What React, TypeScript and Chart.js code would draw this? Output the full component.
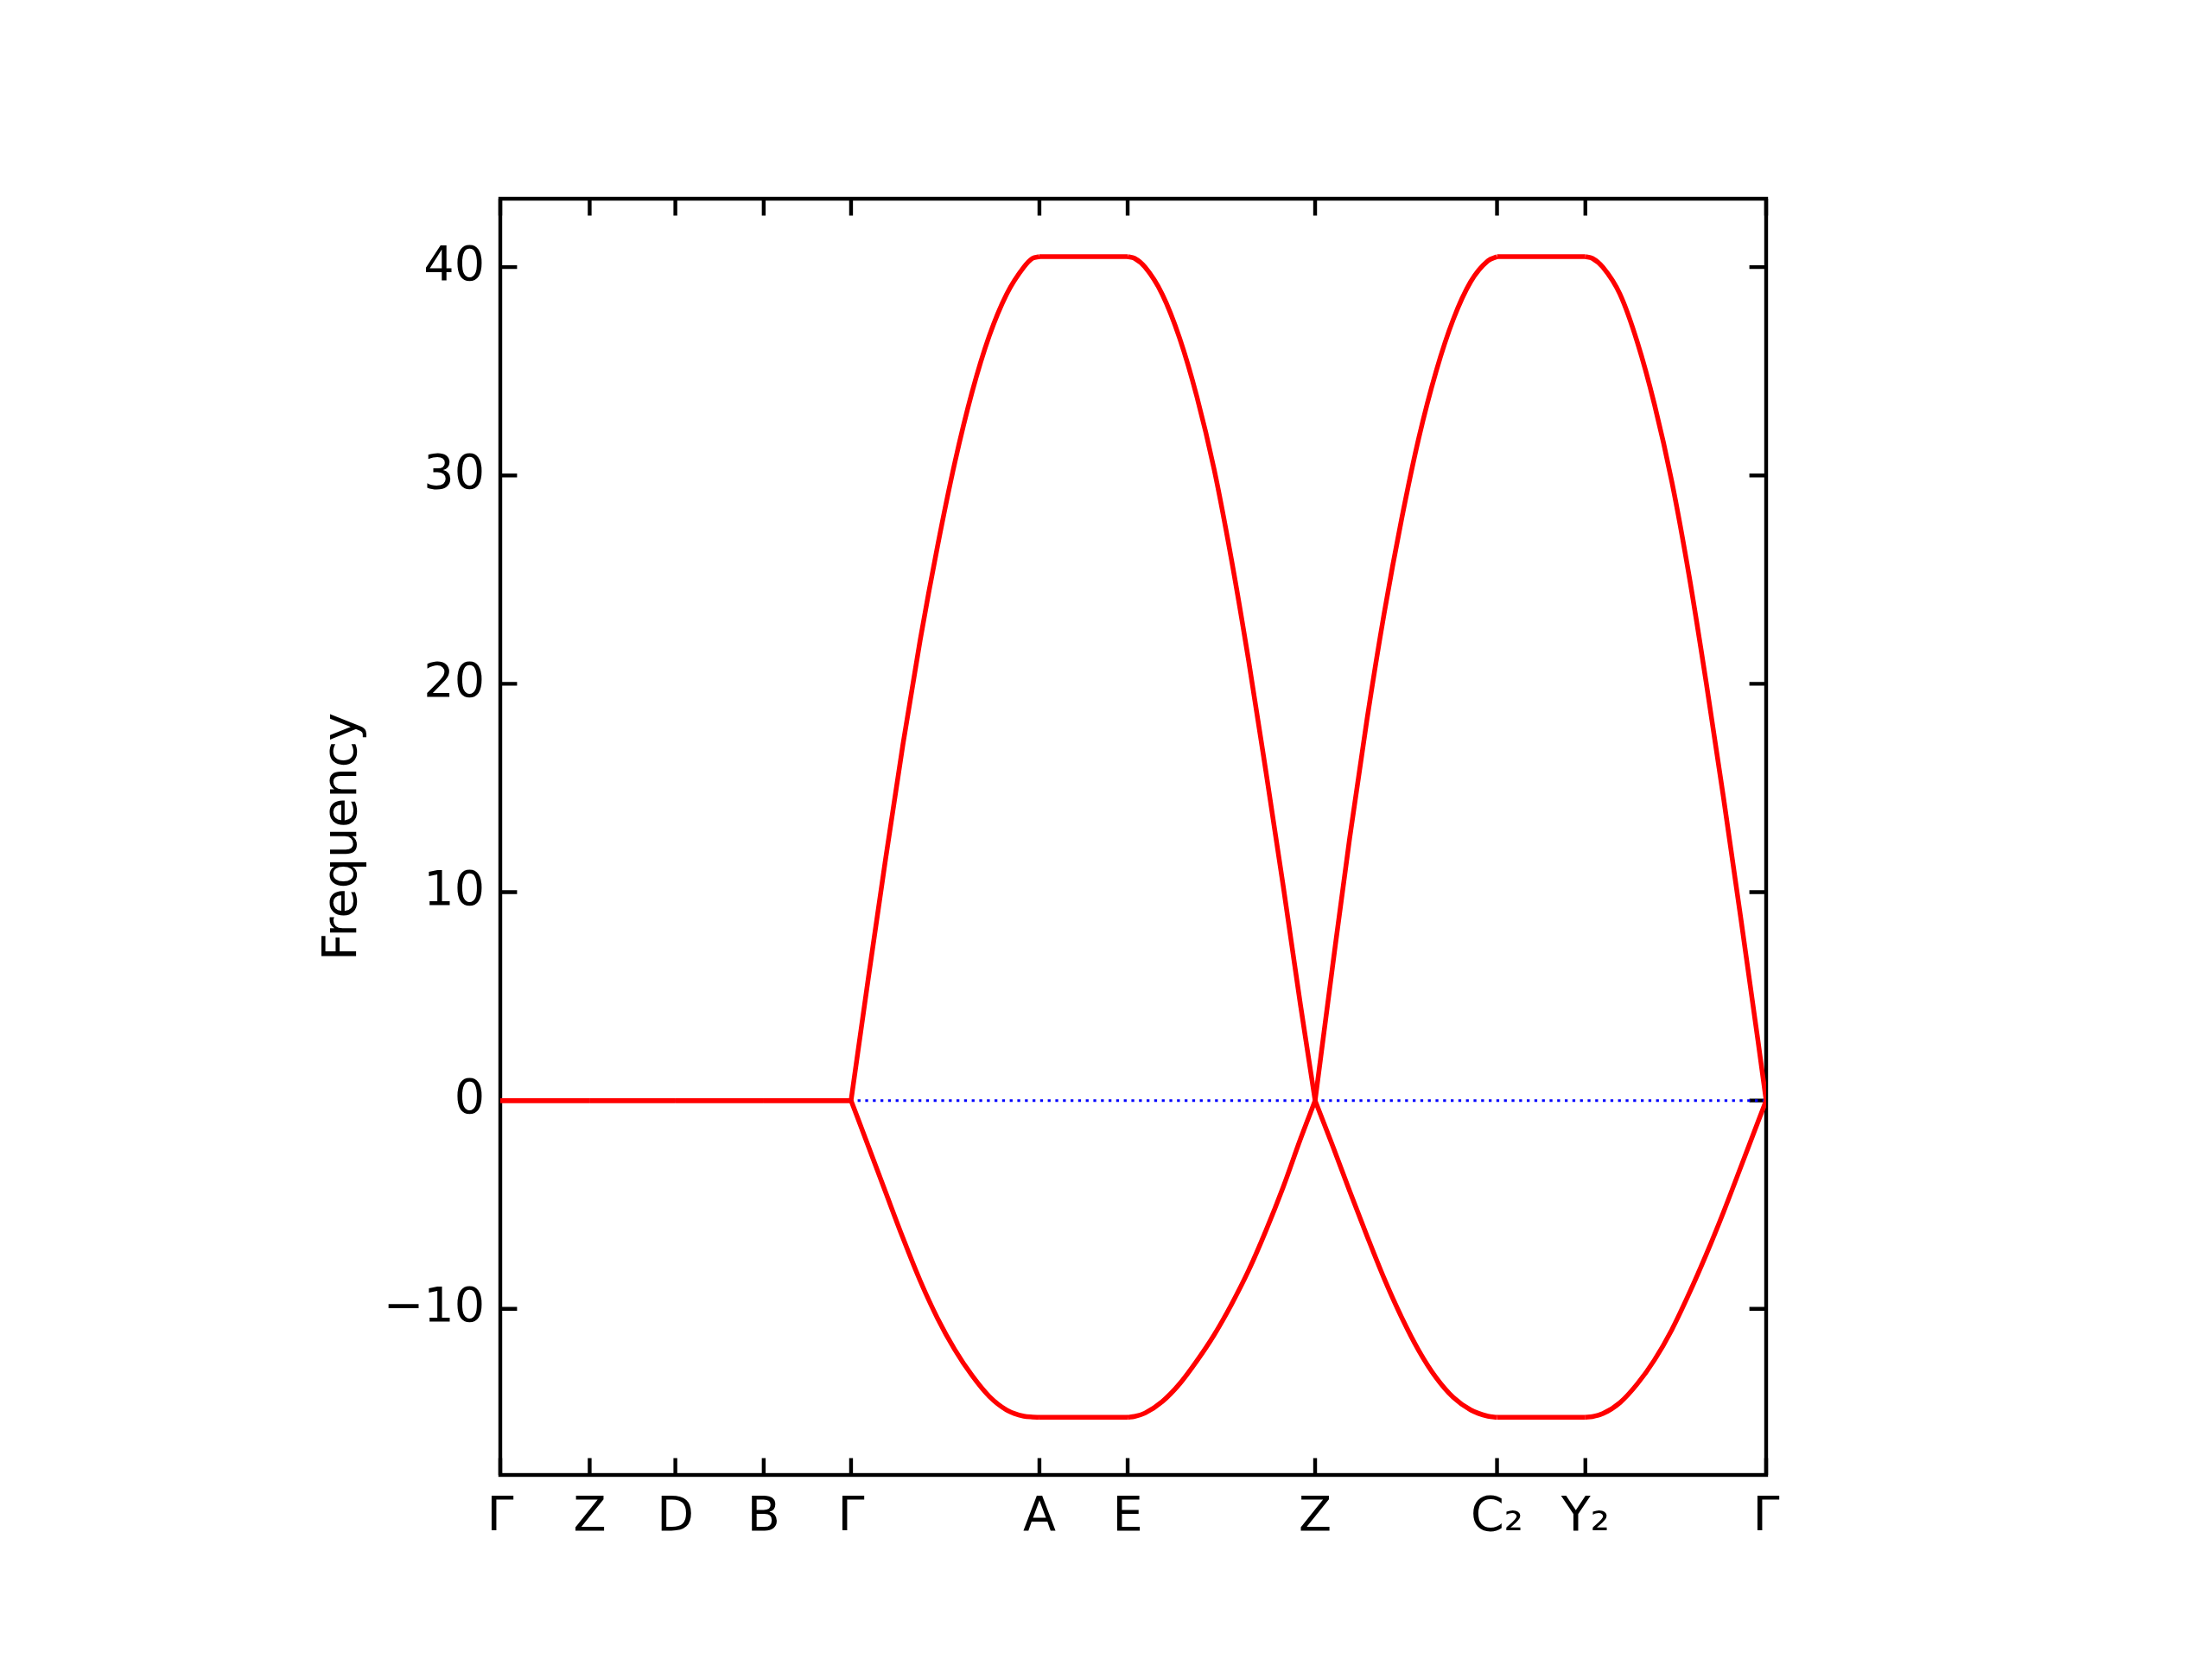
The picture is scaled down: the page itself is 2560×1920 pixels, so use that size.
import React, { useEffect, useRef } from 'react';
import { Chart, registerables } from 'chart.js';

Chart.register(...registerables);

// High-symmetry path positions (normalised k-path distance) and labels
const tickPositions = [0, 0.0706, 0.1383, 0.2081, 0.2771, 0.4259, 0.4956, 0.6437, 0.7874, 0.8572, 1];
const tickLabels = ['Γ', 'Z', 'D', 'B', 'Γ', 'A', 'E', 'Z', 'C₂', 'Y₂', 'Γ'];
const yTicks = [-10, 0, 10, 20, 30, 40];
const yMin = -17.97;
const yMax = 43.28;

// k-path sampling shared by both bands
const kPath = [
  0, 0.0706, 0.1383, 0.2081, 0.2771,
  0.2908, 0.3044, 0.3181, 0.3317, 0.3454, 0.359, 0.3727, 0.3863, 0.4, 0.4136, 0.4204, 0.4259,
  0.4956, 0.5011, 0.5093, 0.5229, 0.5366, 0.5502, 0.5639, 0.5775, 0.5912, 0.6048, 0.6185, 0.6321, 0.6437,
  0.6574, 0.671, 0.6847, 0.6983, 0.712, 0.7256, 0.7393, 0.7529, 0.7666, 0.7802, 0.7874,
  0.8572, 0.8627, 0.8709, 0.8845, 0.8982, 0.9118, 0.9255, 0.9391, 0.9528, 0.9664, 0.9801, 0.9937, 1,
];

// Upper band frequencies
const upperFreq = [
  0, 0, 0, 0, 0,
  5.9, 11.6, 17.1, 22.1, 26.6, 30.6, 34.0, 36.7, 38.7, 40.0, 40.42, 40.5,
  40.5, 40.42, 40.0, 38.7, 36.6, 33.8, 30.3, 26.0, 21.1, 15.8, 10.3, 4.6, 0,
  6.4, 12.6, 18.3, 23.4, 27.9, 31.8, 35.0, 37.5, 39.3, 40.3, 40.5,
  40.5, 40.42, 40.0, 38.7, 36.4, 33.4, 29.7, 25.2, 20.0, 14.5, 8.7, 2.8, 0,
];

// Lower band frequencies
const lowerFreq = [
  0, 0, 0, 0, 0,
  -2.2, -4.4, -6.6, -8.65, -10.45, -11.95, -13.2, -14.2, -14.85, -15.15, -15.19, -15.2,
  -15.2, -15.16, -15.0, -14.45, -13.6, -12.5, -11.25, -9.8, -8.15, -6.25, -4.15, -1.85, 0,
  -2.15, -4.35, -6.5, -8.55, -10.4, -12.0, -13.3, -14.25, -14.85, -15.15, -15.2,
  -15.2, -15.17, -15.03, -14.5, -13.6, -12.45, -11.0, -9.27, -7.37, -5.34, -3.17, -1.0, 0,
];

// Zero reference (dotted)
const zeroK = [0, 1];
const zeroFreq = [0, 0];

function splitSegments(ks: number[], fs: number[]) {
  const segs: { x: number; y: number }[][] = [];
  for (let i = 0; i < tickPositions.length - 1; i++) {
    const a = tickPositions[i];
    const b = tickPositions[i + 1];
    const pts: { x: number; y: number }[] = [];
    ks.forEach((k, j) => {
      if (k >= a - 1e-9 && k <= b + 1e-9) pts.push({ x: k, y: fs[j] });
    });
    if (pts.length >= 2) segs.push(pts);
  }
  return segs;
}

const FONT = 'DejaVu Sans';
const TICK_LEN = 19.4;
const AXIS_LW = 4.4;

const framePlugin = {
  id: 'mplFrame',
  beforeDatasetsDraw(chart: any) {
    const { ctx, chartArea, scales } = chart;
    const { left, right, top, bottom } = chartArea;
    ctx.save();
    ctx.strokeStyle = '#000';
    ctx.lineWidth = AXIS_LW;
    ctx.lineCap = 'butt';
    ctx.beginPath();
    tickPositions.forEach((v) => {
      const x = scales.x.getPixelForValue(v);
      ctx.moveTo(x, bottom);
      ctx.lineTo(x, bottom - TICK_LEN);
      ctx.moveTo(x, top);
      ctx.lineTo(x, top + TICK_LEN);
    });
    yTicks.forEach((v) => {
      const y = scales.y.getPixelForValue(v);
      ctx.moveTo(left, y);
      ctx.lineTo(left + TICK_LEN, y);
      ctx.moveTo(right, y);
      ctx.lineTo(right - TICK_LEN, y);
    });
    ctx.stroke();
    ctx.lineJoin = 'miter';
    ctx.strokeRect(left, top, right - left, bottom - top);
    ctx.restore();
  },
};

export default function App() {
  const canvasRef = useRef<HTMLCanvasElement | null>(null);

  useEffect(() => {
    const canvas = canvasRef.current;
    if (!canvas) return;
    const datasets: any[] = [];
    [upperFreq, lowerFreq].forEach((fs) => {
      splitSegments(kPath, fs).forEach((pts) => {
        datasets.push({
          data: pts,
          borderColor: '#ff0000',
          borderWidth: 5.5,
          pointRadius: 0,
          fill: false,
          cubicInterpolationMode: 'monotone',
          order: 0,
        });
      });
    });
    datasets.push({
      data: zeroK.map((k, i) => ({ x: k, y: zeroFreq[i] })),
      borderColor: '#0000ff',
      borderWidth: 3,
      borderDash: [3.3, 5.5],
      pointRadius: 0,
      fill: false,
      tension: 0,
      order: 5,
    });

    const chart = new Chart(canvas, {
      type: 'line',
      data: { datasets },
      options: {
        animation: false,
        responsive: false,
        devicePixelRatio: 1,
        events: [],
        layout: { padding: { left: 340, right: 516, top: 230, bottom: 0 } },
        plugins: { legend: { display: false }, tooltip: { enabled: false } },
        scales: {
          x: {
            type: 'linear',
            min: 0,
            max: 1,
            grid: { display: false, drawTicks: false },
            border: { display: false },
            afterBuildTicks: (scale: any) => {
              scale.ticks = tickPositions.map((v) => ({ value: v }));
            },
            afterFit: (scale: any) => {
              scale.height = 213;
            },
            ticks: {
              autoSkip: false,
              maxRotation: 0,
              minRotation: 0,
              padding: 16,
              color: '#000',
              font: { family: FONT, size: 55.6 },
              callback: (value: any) => {
                const idx = tickPositions.findIndex((p) => Math.abs(p - Number(value)) < 1e-6);
                return idx >= 0 ? tickLabels[idx] : '';
              },
            },
          },
          y: {
            type: 'linear',
            min: yMin,
            max: yMax,
            grid: { display: false, drawTicks: false },
            border: { display: false },
            afterBuildTicks: (scale: any) => {
              scale.ticks = yTicks.map((v) => ({ value: v }));
            },
            afterFit: (scale: any) => {
              scale.width = 239;
            },
            title: {
              display: true,
              text: 'Frequency',
              color: '#000',
              font: { family: FONT, size: 55.6 },
              padding: { top: 24, bottom: 0 },
            },
            ticks: {
              padding: 18,
              color: '#000',
              font: { family: FONT, size: 55.6 },
              callback: (value: any) => {
                const n = Number(value);
                return n < 0 ? '\u2212' + String(Math.abs(n)) : String(n);
              },
            },
          },
        },
      },
      plugins: [framePlugin],
    });

    return () => {
      chart.destroy();
    };
  }, []);

  return (
    <div style={{ position: 'absolute', left: 0, top: 0, width: 2560, height: 1920, background: '#fff' }}>
      <canvas ref={canvasRef} width={2560} height={1920} style={{ width: 2560, height: 1920, display: 'block' }} />
    </div>
  );
}
